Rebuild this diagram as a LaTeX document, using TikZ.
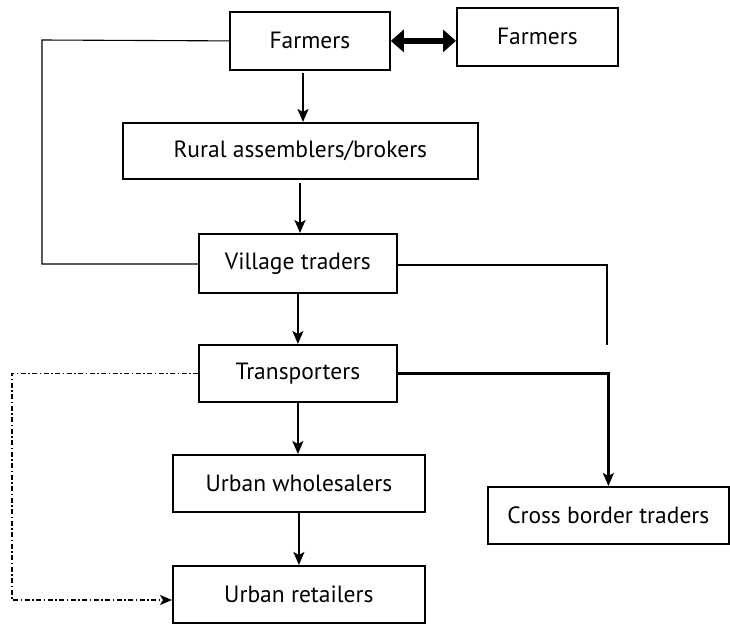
\documentclass[tikz,border=0pt]{standalone}
\usepackage{fontspec}
\setmainfont{PT Sans}
\usetikzlibrary{arrows.meta}
\begin{document}
\begin{tikzpicture}[x=1pt,y=-1pt,
  box/.style={draw,line width=1.8pt,inner sep=0pt,anchor=north west,font=\fontsize{23.5}{28}\selectfont},
  arr/.style={line width=2.2pt,-{Stealth[length=13pt,width=11pt,inset=3pt]}},
  thin/.style={line width=1.1pt},
  plain/.style={line width=2.2pt}]
\useasboundingbox (0,0) rectangle (730,624);
\node[box,minimum width=160pt,minimum height=58pt] (f1) at (229,11) {Farmers};
\node[box,minimum width=161pt,minimum height=58pt] (f2) at (456,7) {Farmers};
\node[box,minimum width=355pt,minimum height=56pt] (ra) at (122,122) {Rural assemblers/brokers};
\node[box,minimum width=198pt,minimum height=59pt] (vt) at (198,233) {Village traders};
\node[box,minimum width=198pt,minimum height=57pt] (tr) at (198,344) {Transporters};
\node[box,minimum width=241pt,minimum height=57pt] (cb) at (487,486) {Cross border traders};
\node[box,minimum width=252pt,minimum height=57pt] (uw) at (172,454) {Urban wholesalers};
\node[box,minimum width=252pt,minimum height=57pt] (ur) at (172,565) {Urban retailers};
\coordinate (vend) at (607,345);
\coordinate (fa) at (303,73);
\coordinate (rb) at (300,183);
% double arrow
\draw[line width=6pt,{Triangle[length=13pt,width=22pt]}-{Triangle[length=13pt,width=22pt]}] (f1.east) -- (f1.east -| f2.west);
% main arrows
\draw[arr] (fa) -- (fa |- ra.north);
\draw[arr] (rb) -- (rb |- vt.north);
\draw[arr] (vt.south) -- (tr.north);
\draw[arr] (tr.south) -- (tr.south |- uw.north);
\draw[arr] (uw.south) -- (ur.north);
% side lines
\draw[thin] (f1.west) -- (42,40) -- (42,264) -- (vt.west |- 0,264);
\draw[plain] (vt.east |- 0,265) -- (607,265) -- (vend);
\draw[arr] (tr.east) -- (tr.east -| cb.north) -- (cb.north);
\draw[line width=1.4pt,dash pattern=on 5pt off 2.5pt on 1.5pt off 2.5pt,-{Stealth[length=12pt,width=10pt,inset=3pt]}] (tr.west) -- (tr.west -| 12,0) -- (12,600) -- (ur.west |- 0,600);
\end{tikzpicture}
\end{document}
